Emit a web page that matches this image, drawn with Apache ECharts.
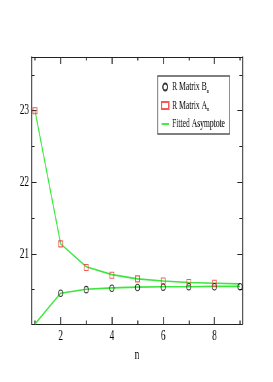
<!DOCTYPE html>
<html><head><meta charset="utf-8">
<script src="https://cdn.jsdelivr.net/npm/echarts@6/dist/echarts.min.js"></script>
<style>
html,body{margin:0;padding:0;background:#fff;overflow:hidden;width:273px;height:382px;}
#c{width:414px;height:382px;transform:scaleX(0.65942);transform-origin:0 0;}
</style></head><body>
<div id="c"></div>
<script>
// data
var nB = [2, 3, 4, 5, 6, 7, 8, 9];
var valB = [20.45, 20.50, 20.52, 20.53, 20.535, 20.54, 20.54, 20.54];
var nA = [1, 2, 3, 4, 5, 6, 7, 8];
var valA = [23.0, 21.14, 20.81, 20.70, 20.65, 20.62, 20.60, 20.59];
var nFit = [1, 2, 3, 4, 5, 6, 7, 8, 9];
var fitUpper = [23.0, 21.14, 20.82, 20.71, 20.65, 20.62, 20.60, 20.59, 20.58];
var fitLower = [20.02, 20.45, 20.505, 20.525, 20.535, 20.54, 20.54, 20.545, 20.545];
var xMajor = [2, 4, 6, 8];
var xMinor = [1, 3, 5, 7, 9];
var yMajor = [21, 22, 23];
var yMinor = [20.5, 21.5, 22.5, 23.5];

function zip(xs, ys){ return xs.map(function(x,i){ return [x, ys[i]]; }); }

var FONT = 'Liberation Serif';
var AX = '#222';
var GREEN = '#3ce63c';
var XMIN = 0.87, XMAX = 9.09, YMIN = 20.02, YMAX = 23.75;

function xAx(pos, vals, len, showLine, labels){
  return {
    type:'value', position:pos, min:XMIN, max:XMAX,
    axisLine:{show:showLine, onZero:false, lineStyle:{color:AX, width:1}},
    axisTick:{show:true, inside:true, length:len, customValues:vals, lineStyle:{color:AX, width:1.5}},
    axisLabel:labels ? {show:true, customValues:vals, margin:5, color:'#000', fontFamily:FONT, fontSize:14} : {show:false},
    splitLine:{show:false}
  };
}
function yAx(pos, vals, len, showLine, labels){
  return {
    type:'value', position:pos, min:YMIN, max:YMAX,
    axisLine:{show:showLine, onZero:false, lineStyle:{color:AX, width:1.5}},
    axisTick:{show:true, inside:true, length:len, customValues:vals, lineStyle:{color:AX, width:1}},
    axisLabel:labels ? {show:true, customValues:vals, margin:4, color:'#000', fontFamily:FONT, fontSize:14} : {show:false},
    splitLine:{show:false}
  };
}

var xAxes = [
  xAx('bottom', xMajor, 7, true, true),
  xAx('bottom', xMinor, 3.5, false, false),
  xAx('top', xMajor, 7, true, false),
  xAx('top', xMinor, 3.5, false, false)
];
xAxes[0].name = 'n';
xAxes[0].nameLocation = 'middle';
xAxes[0].nameGap = 19;
xAxes[0].nameTextStyle = {color:'#000', fontFamily:FONT, fontSize:14};

var yAxes = [
  yAx('left', yMajor, 7.5, true, true),
  yAx('left', yMinor, 4.5, false, false),
  yAx('right', yMajor, 7.5, true, false),
  yAx('right', yMinor, 4.5, false, false)
];

var chart = echarts.init(document.getElementById('c'), null, {renderer:'canvas'});
chart.setOption({
  backgroundColor:'#fff',
  animation:false,
  grid:{left:48, right:46.5, top:57, bottom:58, containLabel:false},
  xAxis:xAxes,
  yAxis:yAxes,
  legend:{
    orient:'vertical', left:239, top:76,
    padding:[5,7,4,5],
    itemGap:5,
    itemWidth:11, itemHeight:7,
    backgroundColor:'#fff',
    borderColor:'#555', borderWidth:1.3, borderRadius:0,
    data:[
      {name:'R Matrix B'},
      {name:'R Matrix A'},
      {name:'Fitted Asymptote', icon:'path://M0,0h24v4h-24z', itemStyle:{color:GREEN, borderWidth:0}}
    ],
    formatter:function(name){
      if(name === 'R Matrix B') return '{m|R Matrix B}{s|n}';
      if(name === 'R Matrix A') return '{m|R Matrix A}{s|n}';
      return '{m|' + name + '}';
    },
    textStyle:{
      color:'#000', fontFamily:FONT, fontSize:11,
      rich:{
        m:{fontFamily:FONT, fontSize:11.5, color:'#000'},
        s:{fontFamily:FONT, fontSize:7, color:'#000', padding:[8,0,0,0]}
      }
    }
  },
  series:[
    {name:'Fitted Asymptote', type:'line', xAxisIndex:0, yAxisIndex:0, data:zip(nFit, fitUpper),
     symbol:'none', lineStyle:{color:GREEN, width:1.6}, itemStyle:{color:GREEN}, z:2},
    {name:'Fitted Asymptote', type:'line', xAxisIndex:0, yAxisIndex:0, data:zip(nFit, fitLower),
     symbol:'none', lineStyle:{color:GREEN, width:1.6}, itemStyle:{color:GREEN}, z:2},
    {name:'R Matrix B', type:'scatter', xAxisIndex:0, yAxisIndex:0, data:zip(nB, valB),
     symbol:'circle', symbolSize:6.5,
     itemStyle:{color:'rgba(0,0,0,0)', borderColor:'#000', borderWidth:1.1}, z:3},
    {name:'R Matrix A', type:'scatter', xAxisIndex:0, yAxisIndex:0, data:zip(nA, valA),
     symbol:'rect', symbolSize:[6,6],
     itemStyle:{color:'rgba(0,0,0,0)', borderColor:'#f03030', borderWidth:1.1}, z:3}
  ]
});
</script>
</body></html>
